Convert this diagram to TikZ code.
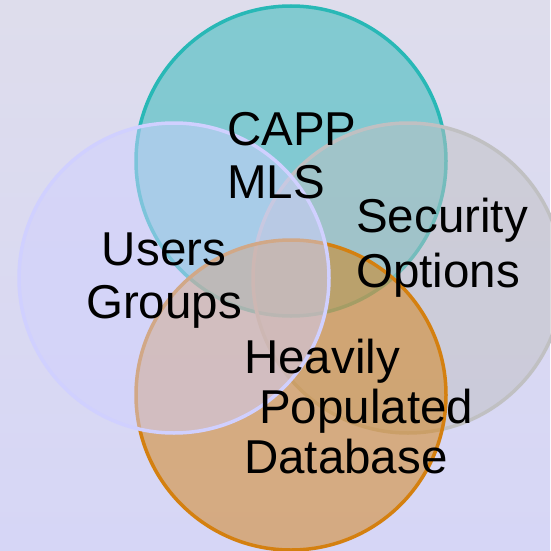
\documentclass[tikz,border=0pt]{standalone}
\usepackage{fontspec}
\setmainfont{Liberation Sans}
\definecolor{bgtop}{RGB}{222,221,236}
\definecolor{bgbot}{RGB}{214,214,246}
\definecolor{tealc}{RGB}{40,184,182}
\definecolor{grayc}{RGB}{192,192,194}
\definecolor{orangec}{RGB}{212,128,16}
\definecolor{lavc}{RGB}{208,208,255}
\tikzset{% styles for the rings and the labels
    ring/.style={circle, minimum size=310pt, inner sep=0pt, line width=3.5pt, fill opacity=0.5},
    lbl/.style={inner sep=0pt, font=\fontsize{47.5}{53}\selectfont}}

\begin{document}
\begin{tikzpicture}[x=1pt,y=-1pt]
    \useasboundingbox (0,0) rectangle (550,551);
    \shade[top color=bgtop, bottom color=bgbot] (0,0) rectangle (550,551);

    % the four rings
    \node[ring, draw=tealc, fill=tealc] (capp) at (291,161) {};
    \node[ring, draw=grayc, fill=grayc] (sec) at (408,278) {};
    \node[ring, draw=orangec, fill=orangec] (db) at (291,395) {};
    \node[ring, draw=lavc, fill=lavc] (usr) at (174,278) {};

    % the labels (base anchor sits on the last line)
    \node[lbl, align=left, anchor=base west] (cappt) at (227,198) {CAPP\\MLS};
    \node[lbl, align=center, anchor=base] (usrt) at (164,318) {Users\\Groups};
    \node[lbl, align=left, anchor=base west, font=\fontsize{47.5}{55}\selectfont] (sect) at (356,287) {Security\\Options};
    \node[lbl, align=left, anchor=base west, font=\fontsize{47.5}{50}\selectfont] (dbt) at (244,473) {Heavily\\\hspace*{15pt}Populated\\Database};
\end{tikzpicture}
\end{document}
